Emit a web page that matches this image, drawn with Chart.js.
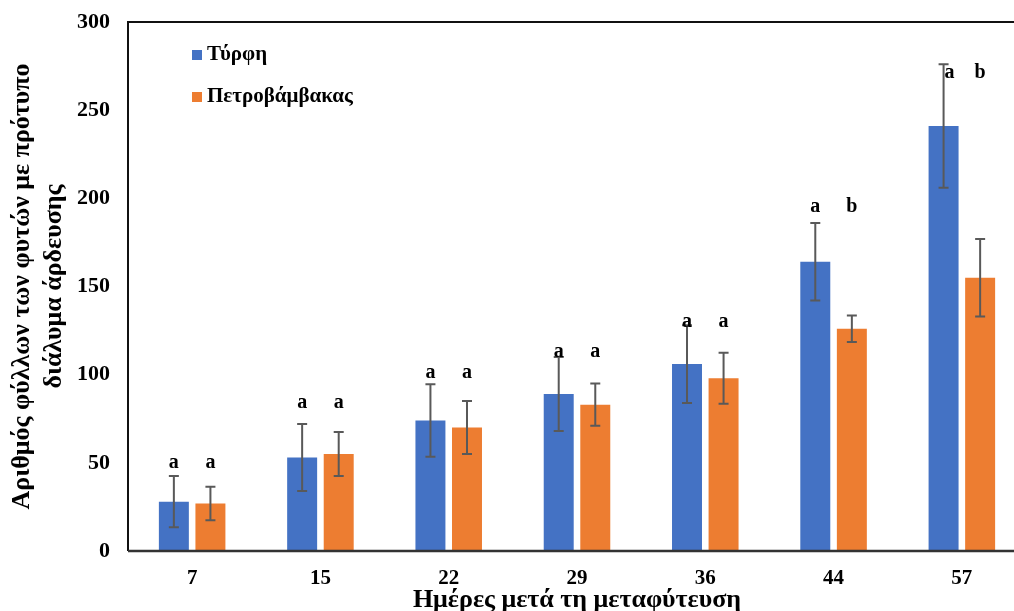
<!DOCTYPE html>
<html>
<head>
<meta charset="utf-8">
<script src="https://cdn.jsdelivr.net/npm/chart.js@4"></script>
<style>
  html, body { margin: 0; padding: 0; background: #fff; overflow: hidden; }
  canvas { display: block; }
</style>
</head>
<body>
<canvas id="leafChart" width="1030" height="611"></canvas>
<script>
// Days after transplanting
const days = ['7', '15', '22', '29', '36', '44', '57'];

// Mean leaf count and error (Τύρφη = peat, Πετροβάμβακας = rockwool)
const peatValues = [28, 53, 74, 89, 106, 164, 241];
const peatErrors = [14.5, 19, 20.5, 21, 22, 22, 35];
const rockValues = [27, 55, 70, 83, 98, 126, 155];
const rockErrors = [9.5, 12.5, 15, 12, 14.5, 7.5, 22];

// Significance letters and the height where they sit
const peatLetters = ['a', 'a', 'a', 'a', 'a', 'a', 'a'];
const rockLetters = ['a', 'a', 'a', 'a', 'a', 'b', 'b'];
const letterLevel = [50, 84, 101, 113, 130, 195, 271];

const yTicks = [0, 50, 100, 150, 200, 250, 300];

const serif = "'Liberation Serif', 'Times New Roman', serif";

const errorBars = {
    id: 'errorBars',
    afterDatasetsDraw(chart) {
        const ctx = chart.ctx;
        const y = chart.scales.y;
        const errs = [peatErrors, rockErrors];
        ctx.save();
        ctx.strokeStyle = '#595959';
        ctx.lineWidth = 2;
        chart.data.datasets.forEach((ds, i) => {
            const meta = chart.getDatasetMeta(i);
            meta.data.forEach((bar, j) => {
                const top = y.getPixelForValue(ds.data[j] + errs[i][j]);
                const bottom = y.getPixelForValue(ds.data[j] - errs[i][j]);
                ctx.beginPath();
                ctx.moveTo(bar.x, top);
                ctx.lineTo(bar.x, bottom);
                ctx.moveTo(bar.x - 5, top);
                ctx.lineTo(bar.x + 5, top);
                ctx.moveTo(bar.x - 5, bottom);
                ctx.lineTo(bar.x + 5, bottom);
                ctx.stroke();
            });
        });

        // letters above the bars
        const letters = [peatLetters, rockLetters];
        ctx.fillStyle = '#000';
        ctx.font = 'bold 20px ' + serif;
        ctx.textAlign = 'center';
        ctx.textBaseline = 'middle';
        chart.data.datasets.forEach((ds, i) => {
            const meta = chart.getDatasetMeta(i);
            meta.data.forEach((bar, j) => {
                const shift = (j === days.length - 1 && i === 0) ? 6 : 0;
                ctx.fillText(letters[i][j], bar.x + shift, y.getPixelForValue(letterLevel[j]));
            });
        });
        ctx.restore();
    }
};

const frameAndLegend = {
    id: 'frameAndLegend',
    afterDraw(chart) {
        const ctx = chart.ctx;
        const area = chart.chartArea;
        ctx.save();
        ctx.strokeStyle = '#111';
        ctx.lineWidth = 2;
        ctx.beginPath();
        ctx.moveTo(area.right, area.top);
        ctx.lineTo(area.left, area.top);
        ctx.lineTo(area.left, area.bottom);
        ctx.stroke();
        ctx.strokeStyle = '#333';
        ctx.lineWidth = 2.5;
        ctx.beginPath();
        ctx.moveTo(area.left, area.bottom);
        ctx.lineTo(area.right, area.bottom);
        ctx.stroke();

        // legend inside the plot, top-left
        ctx.font = 'bold 21px ' + serif;
        ctx.textAlign = 'left';
        ctx.textBaseline = 'middle';
        chart.data.datasets.forEach((ds, i) => {
            const lx = area.left + 64;
            const ly = area.top + 33 + i * 42;
            ctx.fillStyle = ds.backgroundColor;
            ctx.fillRect(lx, ly - 5, 10, 10);
            ctx.fillStyle = '#000';
            ctx.fillText(ds.label, lx + 15, ly);
        });
        ctx.restore();
    }
};

const ctx = document.getElementById('leafChart').getContext('2d');

new Chart(ctx, {
    type: 'bar',
    data: {
        labels: days,
        datasets: [
            {
                label: 'Τύρφη',
                data: peatValues,
                backgroundColor: '#4472C4',
                categoryPercentage: 0.57,
                barPercentage: 0.82,
            },
            {
                label: 'Πετροβάμβακας',
                data: rockValues,
                backgroundColor: '#ED7D31',
                categoryPercentage: 0.57,
                barPercentage: 0.82,
            },
        ],
    },
    options: {
        responsive: false,
        animation: false,
        layout: { padding: { top: 22, right: 4, left: 0, bottom: 0 } },
        plugins: {
            legend: { display: false },
            tooltip: { enabled: false },
        },
        scales: {
            x: {
                grid: { display: false, drawTicks: false },
                border: { display: false },
                ticks: {
                    color: '#000',
                    padding: 15,
                    font: { family: serif, size: 21, weight: 'bold' },
                },
                title: {
                    display: true,
                    text: 'Ημέρες μετά τη μεταφύτευση',
                    color: '#000',
                    font: { family: serif, size: 26, weight: 'bold', lineHeight: 1.0 },
                    padding: { top: 0, bottom: -2 },
                },
                afterFit(scale) {
                    scale.height = 60;
                    scale.paddingLeft = 0;
                    scale.paddingRight = 0;
                },
            },
            y: {
                min: 0,
                max: 300,
                afterBuildTicks(scale) {
                    scale.ticks = yTicks.map(v => ({ value: v }));
                },
                grid: { display: false, drawTicks: false },
                border: { display: false },
                ticks: {
                    color: '#000',
                    padding: 18,
                    font: { family: serif, size: 22, weight: 'bold' },
                },
                title: {
                    display: true,
                    text: ['Αριθμός φύλλων των φυτών με πρότυπο', 'διάλυμα άρδευσης'],
                    color: '#000',
                    font: { family: serif, size: 26, weight: 'bold', lineHeight: 1.25 },
                    padding: { top: 6, bottom: 0 },
                },
                afterFit(scale) {
                    scale.width = 128;
                    scale.paddingTop = 0;
                    scale.paddingBottom = 0;
                },
            },
        },
    },
    plugins: [errorBars, frameAndLegend],
});
</script>
</body>
</html>
